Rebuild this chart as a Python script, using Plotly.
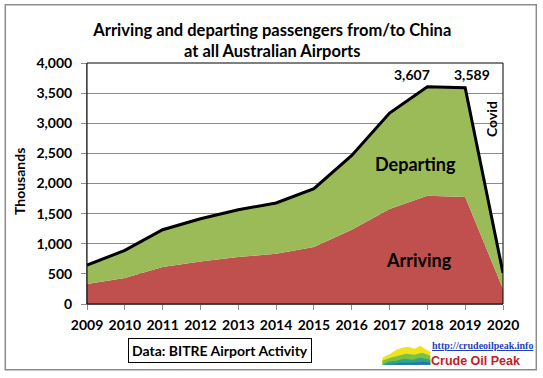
import plotly.graph_objects as go

years = [2009, 2010, 2011, 2012, 2013, 2014, 2015, 2016, 2017, 2018, 2019, 2020]
arriving = [332, 431, 614, 707, 780, 835, 946, 1233, 1577, 1797, 1776, 250]
departing = [313, 459, 619, 709, 785, 841, 968, 1233, 1593, 1810, 1813, 265]
total = [a + d for a, d in zip(arriving, departing)]
y_ticks = [0, 500, 1000, 1500, 2000, 2500, 3000, 3500, 4000]

FONT = "Lato"
L, R, T, B = 86.7, 502.7, 63.3, 304.3
W, H = 543, 378

def px(x):
    return (x - L) / (R - L)

def py(y):
    return (B - y) / (B - T)

fig = go.Figure()
fig.add_trace(go.Scatter(x=years, y=arriving, stackgroup="one", mode="none",
                         fillcolor="#C0504D", name="Arriving", hoverinfo="skip"))
fig.add_trace(go.Scatter(x=years, y=departing, stackgroup="one", mode="none",
                         fillcolor="#9BBB59", name="Departing", hoverinfo="skip"))
fig.add_trace(go.Scatter(x=years, y=total, mode="lines",
                         line=dict(color="black", width=3), name="Total"))

def note(x, y, text, size=14, family=FONT, color="black", **kw):
    return dict(xref="paper", yref="paper", x=px(x), y=py(y), text=text, showarrow=False,
                xanchor="center", yanchor="middle",
                font=dict(size=size, color=color, family=family), **kw)

annos = [
    note(411.7, 75, f"<b>{total[9]:,}</b>"),
    note(471.7, 75, f"<b>{total[10]:,}</b>"),
    note(415, 164, "<b>Departing</b>", size=18),
    note(419, 260, "<b>Arriving</b>", size=18),
    note(491, 119, "<b>Covid</b>", textangle=-90),
    note(220, 351, "<b>Data: BITRE Airport Activity</b>",
         bordercolor="black", borderwidth=1, borderpad=3, bgcolor="white"),
    note(482, 346, "<b><u>http://crudeoilpeak.info</u></b>", size=10,
         family="Liberation Serif", color="#1F3FBF"),
    note(475, 361, "<b>Crude Oil Peak</b>", size=12.5, family="Liberation Sans", color="#C0202A"),
    note(19, 182, "<b>Thousands</b>", textangle=-90),
]

def poly(points, color):
    d = "M " + " L ".join(f"{px(a)},{py(b)}" for a, b in points) + " Z"
    return dict(type="path", xref="paper", yref="paper", path=d, fillcolor=color,
                line=dict(width=0), layer="above")

shapes = [
    dict(type="rect", xref="paper", yref="paper", x0=px(5), x1=px(536), y0=py(370), y1=py(5),
         line=dict(color="#8C8C8C", width=1.5), layer="above"),
    poly([(382, 365), (382, 358), (390, 354), (396, 350), (402, 348), (408, 347), (414, 349),
          (420, 346), (426, 350), (430, 352), (430, 365)], "#F2E21C"),
    poly([(382, 365), (382, 361), (390, 358), (398, 356), (406, 354), (414, 355), (422, 353),
          (430, 356), (430, 365)], "#7CC242"),
    poly([(382, 365), (388, 362), (396, 361), (404, 359), (412, 360), (420, 358), (430, 360),
          (430, 365)], "#2BA58C"),
    poly([(382, 365), (392, 364), (402, 363), (412, 363), (422, 362), (430, 363), (430, 365)],
         "#2A6FB8"),
]

fig.update_layout(
    width=W, height=H,
    margin=dict(l=L, r=W - R, t=T, b=H - B, autoexpand=False),
    paper_bgcolor="white", plot_bgcolor="white",
    showlegend=False,
    title=dict(text="<b>Arriving and departing passengers from/to China<br>at all Australian Airports</b>",
               x=px(272), xref="paper", xanchor="center", y=1 - 36 / H, yanchor="middle",
               font=dict(size=16.5, color="black", family=FONT)),
    font=dict(family=FONT, color="black"),
    annotations=annos,
    shapes=shapes,
)
fig.update_xaxes(range=[2009, 2020], tickvals=years, ticktext=[f"<b>{y}</b>" for y in years],
                 showgrid=False, ticks="outside", ticklen=5, tickcolor="#8C8C8C",
                 showline=True, linecolor="#8C8C8C", linewidth=1, mirror=False,
                 ticklabelstandoff=3,
                 tickfont=dict(size=14, family=FONT, color="black"), zeroline=False)
fig.update_yaxes(range=[0, 4000], tickvals=y_ticks, ticktext=[f"<b>{v:,}</b>" for v in y_ticks],
                 showgrid=True, gridcolor="#8C8C8C", gridwidth=1,
                 ticks="outside", ticklen=5, tickcolor="#8C8C8C",
                 showline=True, linecolor="#8C8C8C", linewidth=1, zeroline=False,
                 ticklabelstandoff=6,
                 tickfont=dict(size=14, family=FONT, color="black"))
fig.add_shape(type="rect", xref="paper", yref="paper", x0=0, x1=1, y0=0, y1=1,
              line=dict(color="black", width=1))

fig.write_html("out.html", config={"displayModeBar": False},
               post_script="document.body.style.margin='0';")
